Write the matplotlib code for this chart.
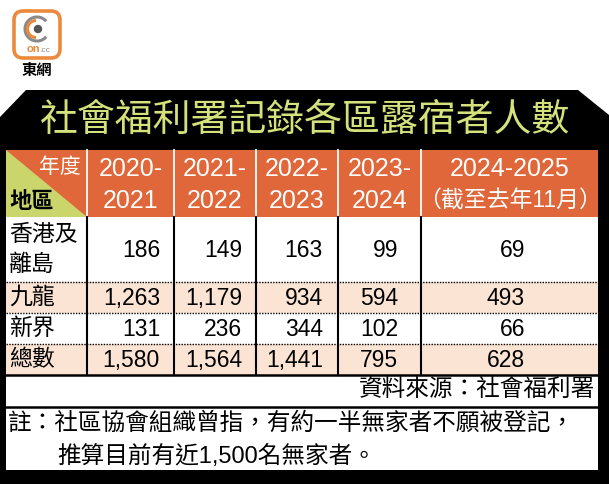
import matplotlib
matplotlib.use("Agg")
import matplotlib.pyplot as plt
from matplotlib.patches import Polygon, Rectangle, FancyBboxPatch, Circle, Arc

# ---- data ----
title = "社會福利署記錄各區露宿者人數"
periods = ["2020-\n2021", "2021-\n2022", "2022-\n2023", "2023-\n2024", "2024-2025\n（截至去年11月）"]
regions = ["香港及\n離島", "九龍", "新界", "總數"]
hk_islands = [186, 149, 163, 99, 69]
kowloon = [1263, 1179, 934, 594, 493]
new_territories = [131, 236, 344, 102, 66]
total = [1580, 1564, 1441, 795, 628]
source = "資料來源：社會福利署"
note1 = "註：社區協會組織曾指，有約一半無家者不願被登記，"
note2 = "推算目前有近1,500名無家者。"

rows = [hk_islands, kowloon, new_territories, total]

# ---- layout (pixels) ----
W, H = 609, 484
col_edges = [6, 87, 174, 256, 338, 421, 598]
row_edges = [217, 282, 313, 344, 375]
num_right = [160, 242, 323, 398, 525]
head_top, head_bot = 150, 217
src_bot, tbl_bot = 407, 470

ORANGE = "#E0673A"
LIME = "#CAD56B"
TITLE_C = "#D5E27C"
PEACH = "#FBE4D3"
FAM = ["Liberation Sans", "Noto Sans CJK TC", "DejaVu Sans"]

fig = plt.figure(figsize=(W / 100, H / 100), dpi=100)
ax = fig.add_axes([0, 0, 1, 1])
ax.set_xlim(0, W)
ax.set_ylim(H, 0)
ax.axis("off")

# logo
ax.add_patch(FancyBboxPatch((14, 11), 46, 47, boxstyle="round,pad=0,rounding_size=9",
                            fc="white", ec="#EB8A3C", lw=2.6))
ax.add_patch(Arc((37, 29), 24, 24, theta1=40, theta2=320, color="#8A8A8A", lw=2.2))
ax.add_patch(Arc((36, 29), 17, 17, theta1=90, theta2=270, color="#EB8A3C", lw=2.2))
ax.add_patch(Circle((38, 29), 3.5, color="#555555"))
ax.text(33, 49, "on", color="#EB8A3C", fontsize=8, fontweight="bold", ha="center", va="center", family=FAM)
ax.text(45, 50, ".cc", color="#8A8A8A", fontsize=6, ha="center", va="center", family=FAM)
ax.text(37, 71, "東網", fontsize=11, ha="center", va="center", family=FAM, fontweight="bold")

# black panel
ax.add_patch(Polygon([(0, 117), (26, 90), (578, 90), (609, 115), (609, H), (0, H)],
                     closed=True, fc="black", ec="none"))
ax.text(305, 121, title, color=TITLE_C, fontsize=27.3, ha="center", va="center", family=FAM,
        fontweight="medium")

# header
x0, x1 = col_edges[0], col_edges[-1]
ax.add_patch(Rectangle((x0, head_top), x1 - x0, head_bot - head_top, fc=ORANGE, ec="none"))
ax.add_patch(Polygon([(x0, head_top), (x0, head_bot), (col_edges[1], head_bot)], closed=True,
                     fc=LIME, ec="none"))
ax.text(81, 167, "年度", color="white", fontsize=15, ha="right", va="center", family=FAM)
ax.text(9, 202, "地區", color="black", fontsize=16, ha="left", va="center", family=FAM, fontweight="bold")
for i, p in enumerate(periods):
    cx = (col_edges[i + 1] + col_edges[i + 2]) / 2
    l1, l2 = p.split("\n")
    ax.text(cx, 169, l1, color="white", fontsize=18, ha="center", va="center", family=FAM)
    ax.text(cx, 201, l2, color="white", fontsize=18 if i < 4 else 16.5, ha="center", va="center", family=FAM)
for xe in col_edges[1:-1]:
    ax.plot([xe, xe], [head_top, head_bot], color="white", lw=1.3)

# body
ax.add_patch(Rectangle((x0, head_bot), x1 - x0, tbl_bot - head_bot, fc="white", ec="none"))
for r, (lab, vals) in enumerate(zip(regions, rows)):
    y0, y1 = row_edges[r], row_edges[r + 1]
    if r in (1, 3):
        ax.add_patch(Rectangle((x0, y0), x1 - x0, y1 - y0, fc=PEACH, ec="none"))
    cy = (y0 + y1) / 2
    lines = lab.split("\n")
    if len(lines) == 1:
        ax.text(9, cy, lab, fontsize=16.5, ha="left", va="center", family=FAM)
    else:
        ax.text(9, cy - 15, lines[0], fontsize=16.5, ha="left", va="center", family=FAM)
        ax.text(9, cy + 15, lines[1], fontsize=16.5, ha="left", va="center", family=FAM)
    for j, v in enumerate(vals):
        ax.text(num_right[j], cy + 1, f"{v:,}", fontsize=16.5, ha="right", va="center", family=FAM)

for ye in row_edges[1:-1]:
    ax.plot([x0, x1], [ye, ye], color="black", lw=1.0, ls=(0, (1, 1)))
for xe in col_edges[1:-1]:
    ax.plot([xe, xe], [head_bot, row_edges[-1]], color="black", lw=1.5)
ax.plot([x0, x1], [row_edges[-1], row_edges[-1]], color="black", lw=1.8)
ax.plot([x0, x1], [src_bot, src_bot], color="black", lw=1.8)

ax.text(595, 391, source, fontsize=17, ha="right", va="center", family=FAM)
ax.text(8, 424, note1, fontsize=17, ha="left", va="center", family=FAM)
ax.text(57, 456, note2, fontsize=17, ha="left", va="center", family=FAM)

fig.savefig("out.png", dpi=100)
